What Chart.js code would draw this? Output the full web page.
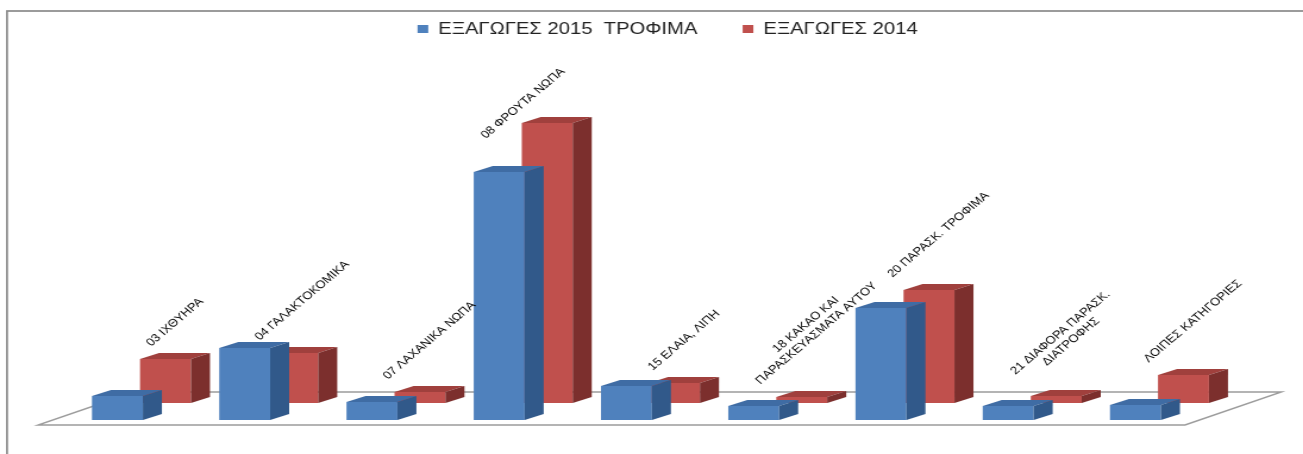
<!DOCTYPE html>
<html><head><meta charset="utf-8">
<script src="https://cdn.jsdelivr.net/npm/chart.js@4.4.1/dist/chart.umd.min.js"></script>
<style>
html,body{margin:0;padding:0;overflow:hidden;background:#fff;width:1303px;height:454px}
#wrap{position:absolute;left:0;top:0;width:1122px;height:454px;transform:scaleX(1.19);transform-origin:0 0}
canvas{display:block}
</style></head><body>
<div id="wrap"><canvas id="c" width="1122" height="454"></canvas></div>
<script>
// ---- data ----
const categories = [
  '03 ΙΧΘΥΗΡΑ',
  '04 ΓΑΛΑΚΤΟΚΟΜΙΚΑ',
  '07 ΛΑΧΑΝΙΚΑ ΝΩΠΑ',
  '08 ΦΡΟΥΤΑ ΝΩΠΑ',
  '15 ΕΛΑΙΑ, ΛΙΠΗ',
  ['18 ΚΑΚΑΟ ΚΑΙ', 'ΠΑΡΑΣΚΕΥΑΣΜΑΤΑ ΑΥΤΟΥ'],
  '20 ΠΑΡΑΣΚ. ΤΡΟΦΙΜΑ',
  ['21 ΔΙΑΦΟΡΑ ΠΑΡΑΣΚ.', 'ΔΙΑΤΡΟΦΗΣ'],
  'ΛΟΙΠΕΣ ΚΑΤΗΓΟΡΙΕΣ'
];
const seriesNames = ['ΕΞΑΓΩΓΕΣ 2015  ΤΡΟΦΙΜΑ', 'ΕΞΑΓΩΓΕΣ 2014'];
const exports2015 = [24, 72, 18, 248, 34, 14, 112, 14, 15];
const exports2014 = [44, 50, 11, 280, 20, 6, 113, 7, 28];

// ---- styling ----
const frontColors = ['#4F81BD', '#C0504D'];
const topColors = ['#3F6CA4', '#A0403D'];
const sideColors = ['#31598A', '#7C2F2D'];
const DEPTH = {x: 16, y: -6};      // bar depth
const ROW = {x: -2.4, y: -17};     // back row shift
const FLOOR = {x: 81, y: -33};     // floor depth
const LABEL_FONT = '11px "Liberation Sans", Arial, sans-serif';

const threeD = {
  id: 'threeD',
  beforeDraw(chart) {
    const ctx = chart.ctx;
    ctx.save();
    ctx.strokeStyle = '#8a8a8a';
    ctx.lineWidth = 1.7;
    ctx.strokeRect(5.9, 11, chart.width + 40, chart.height + 40);
    ctx.restore();
  },
  beforeDatasetsDraw(chart) {
    const {ctx, chartArea: a} = chart;
    const fy = a.bottom + 5, fl = a.left - 34.7, fr = a.right - 33.2;
    ctx.save();
    ctx.beginPath();
    ctx.moveTo(fl, fy);
    ctx.lineTo(fr, fy);
    ctx.lineTo(fr + FLOOR.x, fy + FLOOR.y);
    ctx.lineTo(fl + FLOOR.x, fy + FLOOR.y);
    ctx.closePath();
    ctx.fillStyle = '#ffffff';
    ctx.fill();
    ctx.strokeStyle = '#9c9c9c';
    ctx.lineWidth = 1.4;
    ctx.stroke();
    ctx.restore();
  },
  beforeDatasetDraw(chart, args) {
    chart.ctx.save();
    if (args.index === 1) chart.ctx.translate(ROW.x, ROW.y);
  },
  afterDatasetDraw(chart, args) {
    const ctx = chart.ctx;
    const i = args.index;
    args.meta.data.forEach(bar => {
      const {x, y, base, width} = bar.getProps(['x', 'y', 'base', 'width'], true);
      const l = x - width / 2, r = x + width / 2;
      ctx.fillStyle = topColors[i];
      ctx.beginPath();
      ctx.moveTo(l, y); ctx.lineTo(r, y);
      ctx.lineTo(r + DEPTH.x, y + DEPTH.y); ctx.lineTo(l + DEPTH.x, y + DEPTH.y);
      ctx.closePath(); ctx.fill();
      ctx.fillStyle = sideColors[i];
      ctx.beginPath();
      ctx.moveTo(r, y); ctx.lineTo(r + DEPTH.x, y + DEPTH.y);
      ctx.lineTo(r + DEPTH.x, base + DEPTH.y); ctx.lineTo(r, base);
      ctx.closePath(); ctx.fill();
    });
    ctx.restore();
  },
  afterDatasetsDraw(chart) {
    const ctx = chart.ctx;
    const meta = chart.getDatasetMeta(1);
    const lh = 12.5;
    const limit = chart.chartArea.top + 18;
    ctx.save();
    ctx.font = LABEL_FONT;
    ctx.fillStyle = '#000';
    ctx.textAlign = 'center';
    ctx.textBaseline = 'middle';
    chart.data.labels.forEach((lab, k) => {
      const lines = Array.isArray(lab) ? lab : [lab];
      const bar = meta.data[k];
      const w = Math.max(...lines.map(t => ctx.measureText(t).width));
      const h = lines.length * lh;
      const half = (w + h) / (2 * Math.SQRT2);
      let cx = bar.x + ROW.x + DEPTH.x / 2;
      let cy = bar.y + ROW.y - 10 - half;
      if (cy - half < limit) {
        const push = limit + half - cy;
        cy += push;
        cx -= push;   // slide back along the text direction
      }
      ctx.save();
      ctx.translate(cx, cy);
      ctx.rotate(-Math.PI / 4);
      lines.forEach((t, j) => ctx.fillText(t, 0, (j - (lines.length - 1) / 2) * lh));
      ctx.restore();
    });
    ctx.restore();
  }
};

const hiddenAxis = (w, pos) => ({
  type: 'linear', position: pos, display: true, min: 0, max: 372.5,
  grid: {display: false}, border: {display: false}, ticks: {display: false},
  afterFit(s) { s.width = w; }
});

new Chart(document.getElementById('c'), {
  type: 'bar',
  data: {
    labels: categories,
    datasets: [
      {label: seriesNames[0], data: exports2015, backgroundColor: frontColors[0], borderWidth: 0,
       categoryPercentage: 0.8, barPercentage: 1.0},
      {label: seriesNames[1], data: exports2014, backgroundColor: frontColors[1], borderWidth: 0,
       categoryPercentage: 0.8, barPercentage: 1.0}
    ]
  },
  options: {
    responsive: false,
    animation: false,
    devicePixelRatio: 1,
    layout: {padding: {top: -17.5, left: 0, right: 0, bottom: 34}},
    scales: {
      x: {display: false},
      y: hiddenAxis(66.6, 'left'),
      yR: hiddenAxis(1122 - 1029, 'right')
    },
    plugins: {
      legend: {
        position: 'top',
        labels: {
          font: {size: 17, family: '"Liberation Sans", Arial, sans-serif'},
          color: '#222', boxWidth: 9, boxHeight: 8, padding: 38
        }
      },
      tooltip: {enabled: false}
    }
  },
  plugins: [threeD]
});
</script>
</body></html>
